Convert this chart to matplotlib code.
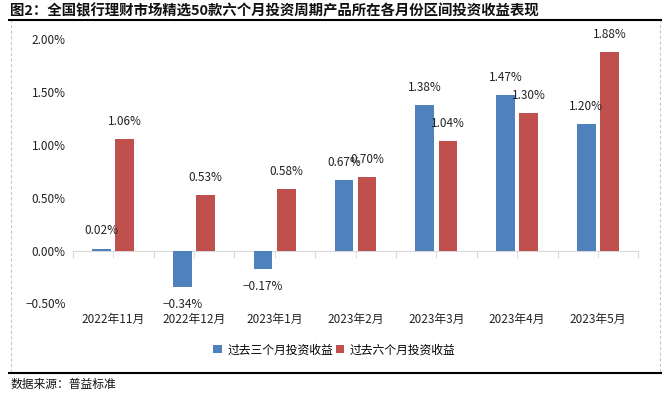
import matplotlib
matplotlib.use("Agg")
import matplotlib.pyplot as plt
from matplotlib.lines import Line2D
from matplotlib.patches import Rectangle
import numpy as np

plt.rcParams['font.family'] = ['Noto Sans CJK SC', 'DejaVu Sans']
plt.rcParams['axes.unicode_minus'] = False

months = ['2022年11月', '2022年12月', '2023年1月', '2023年2月', '2023年3月', '2023年4月', '2023年5月']
ret_3m = [0.02, -0.34, -0.17, 0.67, 1.38, 1.47, 1.20]
ret_6m = [1.06, 0.53, 0.58, 0.70, 1.04, 1.30, 1.88]
series_names = ['过去三个月投资收益', '过去六个月投资收益']
yticks = [-0.5, 0.0, 0.5, 1.0, 1.5, 2.0]

BLUE = '#4F81BD'
RED = '#C0504D'
GRID = '#D9D9D9'

fig = plt.figure(figsize=(6.69, 3.94), dpi=100)
ax = fig.add_axes([0.1087, 0.2297, 0.8455, 0.6706])

x = np.arange(len(months))
w = 0.23
off = 0.143
b1 = ax.bar(x - off, ret_3m, w, color=BLUE, label=series_names[0], zorder=3)
b2 = ax.bar(x + off, ret_6m, w, color=RED, label=series_names[1], zorder=3)

def fmt(v):
    s = f'{abs(v):.2f}%'
    return ('\u2212' + s) if v < 0 else s

# data labels (the 0.67% / 0.70% pair overlaps in the original too)
for bars, vals in ((b1, ret_3m), (b2, ret_6m)):
    for r, v in zip(bars, vals):
        cx = r.get_x() + r.get_width() / 2
        dy = 8 if v >= 0 else -8
        ax.annotate(fmt(v), (cx, v), xytext=(0, dy), textcoords='offset points',
                    ha='center', va='bottom' if v >= 0 else 'top',
                    fontsize=8.5, color='#222222', zorder=4)

ax.set_xlim(-0.5, len(months) - 0.5)
ax.set_ylim(-0.5, 2.0)
ax.set_yticks(yticks)
ax.set_yticklabels([fmt(t) for t in yticks], fontsize=8.5, color='#222222')
ax.tick_params(axis='y', length=0, pad=5)

for s in ('top', 'right', 'left'):
    ax.spines[s].set_visible(False)
ax.spines['bottom'].set_position(('data', 0))
ax.spines['bottom'].set_color(GRID)
ax.set_xticks(np.arange(len(months) + 1) - 0.5)
ax.set_xticks(x, minor=True)
ax.tick_params(axis='x', which='both', length=5, color=GRID, labelbottom=False)

for xi, m in zip(x, months):
    ax.text(xi, -0.062, m, transform=ax.get_xaxis_transform(),
            ha='center', va='center', fontsize=8.5, color='#222222')

fig.legend(handles=[b1, b2], labels=series_names, loc='center',
           bbox_to_anchor=(0.5, 0.112), ncol=2, frameon=False,
           fontsize=8.5, handlelength=0.7, handleheight=0.7,
           handletextpad=0.5, columnspacing=0.2)

# title, frame and footer
fig.text(0.015, 0.972, '图2：全国银行理财市场精选50款六个月投资周期产品所在各月份区间投资收益表现',
         ha='left', va='center', fontsize=10.4, fontweight='bold', color='#111111')
top_y = 1 - 20 / 394
bot_y = 1 - 373 / 394
fig.add_artist(Rectangle((0.0165, bot_y), 0.97, top_y - bot_y, transform=fig.transFigure,
                         fill=False, edgecolor='#C8C8C8', linestyle=(0, (3, 2)), linewidth=0.8))
fig.add_artist(Line2D([0.0135, 0.988], [top_y, top_y], color='black', linewidth=1.5))
fig.add_artist(Line2D([0.0135, 0.988], [bot_y, bot_y], color='black', linewidth=1.5))
fig.text(0.015, 1 - 384 / 394, '数据来源：普益标准', ha='left', va='center',
         fontsize=8.5, color='#111111')

fig.savefig('out.png', dpi=100)
